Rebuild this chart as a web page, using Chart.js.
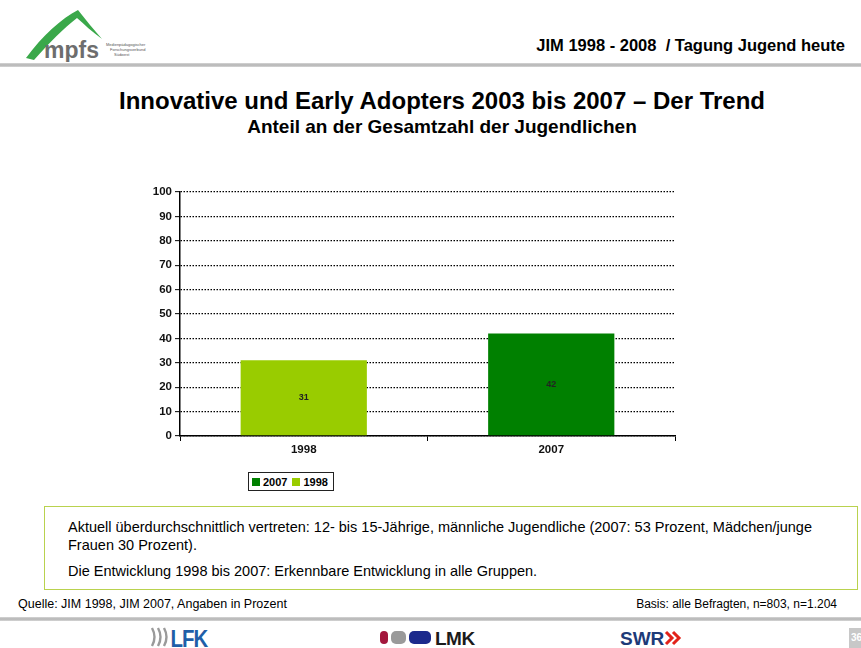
<!DOCTYPE html>
<html lang="de">
<head>
<meta charset="utf-8">
<title>Innovative und Early Adopters 2003 bis 2007</title>
<script src="https://cdn.jsdelivr.net/npm/chart.js@4.4.1/dist/chart.umd.min.js"></script>
<style>
  html, body { margin: 0; padding: 0; background: #fff; }
  body { width: 861px; height: 648px; position: relative; overflow: hidden;
         font-family: "Liberation Sans", Arial, sans-serif; color: #000; }
  .abs { position: absolute; }
  #logo-mpfs { left: 22px; top: 6px; }
  #headline { right: 16px; top: 36px; font-size: 16.5px; font-weight: bold; white-space: pre; }
  .rule { left: 0; width: 861px; height: 4px;
          background: linear-gradient(#d6d6d6, #b4b4b4 50%, #d6d6d6); }
  #title { left: 0; width: 884px; top: 87px; text-align: center; font-size: 24px; font-weight: bold; }
  #subtitle { left: 0; width: 884px; top: 116px; text-align: center; font-size: 19px; font-weight: bold; }
  #chartWrap { left: 130px; top: 180px; width: 560px; height: 280px; }
  #legend { left: 248px; top: 472px; height: 17px; border: 1px solid #222;
            display: flex; align-items: center; padding: 0 5px 0 3px; font-size: 11px; font-weight: bold; }
  #legend span.item { display: flex; align-items: center; margin-right: 5px; }
  #legend span.item:last-child { margin-right: 0; }
  #legend i { display: inline-block; width: 8px; height: 8px; margin-right: 3px; }
  #note { left: 44px; top: 506px; width: 814px; height: 84px; box-sizing: border-box;
          border: 1.5px solid #b9d24e; padding: 11px 20px 4px 23px; font-size: 14.5px; line-height: 18px; }
  #note p { margin: 0 0 8px 0; }
  #source { left: 18px; top: 597px; font-size: 12.5px; }
  #basis { right: 24px; top: 597px; font-size: 12px; }
  #page { left: 849px; top: 628px; width: 20px; height: 22px; background: #c8c8c8;
          color: #fff; font-size: 10px; font-weight: bold; padding: 4px 0 0 2px; box-sizing: border-box; }
</style>
</head>
<body>

<svg id="logo-mpfs" class="abs" width="150" height="56" viewBox="0 0 150 56">
  <path d="M4 52 C 20 30, 40 12, 56 4 C 64 14, 72 24, 80 33 C 70 26, 62 18, 55 12 C 42 22, 28 36, 12 54 Z" fill="#3aa84a"/>
  <text x="22" y="52" font-family="Liberation Sans, Arial" font-weight="bold" font-size="23" fill="#6d6d6d">mpfs</text>
  <text x="84" y="40" font-family="Liberation Sans, Arial" font-size="4" fill="#555">Medienpädagogischer</text>
  <text x="88" y="45" font-family="Liberation Sans, Arial" font-size="4" fill="#555">Forschungsverbund</text>
  <text x="92" y="50" font-family="Liberation Sans, Arial" font-size="4" fill="#555">Südwest</text>
</svg>
<div id="headline" class="abs">JIM 1998 - 2008  / Tagung Jugend heute</div>
<div class="abs rule" style="top:63px"></div>

<div id="title" class="abs">Innovative und Early Adopters 2003 bis 2007 – Der Trend</div>
<div id="subtitle" class="abs">Anteil an der Gesamtzahl der Jugendlichen</div>

<div id="chartWrap" class="abs"><canvas id="trendChart" width="560" height="280"></canvas></div>
<div id="legend" class="abs"></div>

<div id="note" class="abs">
  <p>Aktuell überdurchschnittlich vertreten: 12- bis 15-Jährige, männliche Jugendliche (2007: 53 Prozent, Mädchen/junge Frauen 30 Prozent).</p>
  <p>Die Entwicklung 1998 bis 2007: Erkennbare Entwicklung in alle Gruppen.</p>
</div>
<div id="source" class="abs">Quelle: JIM 1998, JIM 2007, Angaben in Prozent</div>
<div id="basis" class="abs">Basis: alle Befragten, n=803, n=1.204</div>
<div class="abs rule" style="top:617px"></div>

<!-- partner logos in the footer -->
<svg class="abs" style="left:150px;top:626px" width="80" height="22" viewBox="0 0 80 22">
  <g fill="none" stroke="#9a9a9a" stroke-width="2.4">
    <path d="M2 2 Q7 11 2 20"/><path d="M8 2 Q13 11 8 20"/><path d="M14 2 Q19 11 14 20"/>
  </g>
  <text x="24" y="21" font-family="Liberation Sans Narrow, Liberation Sans, Arial" font-weight="bold" font-size="24" fill="#1f5fa8" transform="scale(0.85 1)" style="letter-spacing:-1px">LFK</text>
</svg>
<svg class="abs" style="left:380px;top:627px" width="120" height="20" viewBox="0 0 120 20">
  <rect x="0" y="4" width="8" height="13" rx="4" fill="#a3163c"/>
  <rect x="11" y="4" width="15" height="13" rx="5" fill="#9a9a9a"/>
  <rect x="29" y="4" width="22" height="13" rx="5" fill="#1c2a8c"/>
  <text x="55" y="18" font-family="Liberation Sans, Arial" font-weight="bold" font-size="19" fill="#1b1b1b" style="letter-spacing:-0.5px">LMK</text>
</svg>
<svg class="abs" style="left:620px;top:626px" width="80" height="22" viewBox="0 0 80 22">
  <text x="0" y="19" font-family="Liberation Sans, Arial" font-weight="bold" font-size="19" fill="#1d3a78">SWR</text>
  <path d="M46 6 L52 12 L46 18 M53 6 L59 12 L53 18" fill="none" stroke="#e2231a" stroke-width="3"/>
</svg>
<div id="page" class="abs">36</div>

<script>
// Anteil der Innovativen / Early Adopters, Angaben in Prozent
const years = ['1998', '2007'];
const share1998 = [31, null];
const share2007 = [null, 42];
const yTicks = [0, 10, 20, 30, 40, 50, 60, 70, 80, 90, 100];

const green1998 = '#99cc00';
const green2007 = '#008000';

// value printed in the middle of each bar
const barValues = {
  id: 'barValues',
  afterDatasetsDraw(chart) {
    const ctx = chart.ctx;
    ctx.save();
    ctx.font = 'bold 9px "Liberation Sans", Arial, sans-serif';
    ctx.fillStyle = '#222';
    ctx.textAlign = 'center';
    ctx.textBaseline = 'middle';
    chart.data.datasets.forEach((ds, i) => {
      chart.getDatasetMeta(i).data.forEach((bar, j) => {
        if (ds.data[j] == null) return;
        ctx.fillText(ds.data[j], bar.x, (bar.y + bar.base) / 2);
      });
    });
    ctx.restore();
  }
};

const tickFont = { family: '"Liberation Sans", Arial', size: 11.5, weight: 'bold' };

const ctx = document.getElementById('trendChart').getContext('2d');
const chart = new Chart(ctx, {
  type: 'bar',
  data: {
    labels: years,
    datasets: [
      { label: '2007', data: share2007, backgroundColor: green2007 },
      { label: '1998', data: share1998, backgroundColor: green1998 }
    ]
  },
  options: {
    responsive: false,
    animation: false,
    skipNull: true,
    categoryPercentage: 1,
    barPercentage: 0.51,
    layout: { padding: { top: 12, right: 15, left: 0, bottom: 0 } },
    plugins: { legend: { display: false }, tooltip: { enabled: false } },
    scales: {
      x: {
        grid: { drawOnChartArea: false, drawTicks: true, tickLength: 5, color: '#000', lineWidth: 1 },
        border: { color: '#000', width: 1.5 },
        ticks: { color: '#111', font: tickFont, padding: 2 },
        afterFit(scale) { scale.height = 24; }
      },
      y: {
        min: 0, max: 100,
        afterBuildTicks(scale) { scale.ticks = yTicks.map(v => ({ value: v })); },
        grid: { color: '#000', lineWidth: 1.3, tickLength: 5, tickColor: '#000', tickWidth: 1 },
        border: { color: '#000', width: 1.5, dash: [1.5, 1.5] },
        ticks: { color: '#111', font: tickFont, padding: 3 },
        afterFit(scale) { scale.width = 50; }
      }
    }
  },
  plugins: [barValues]
});

// legend box built from the datasets
const legend = document.getElementById('legend');
chart.data.datasets.forEach(ds => {
  const item = document.createElement('span');
  item.className = 'item';
  item.innerHTML = '<i style="background:' + ds.backgroundColor + '"></i>' + ds.label;
  legend.appendChild(item);
});
</script>
</body>
</html>
